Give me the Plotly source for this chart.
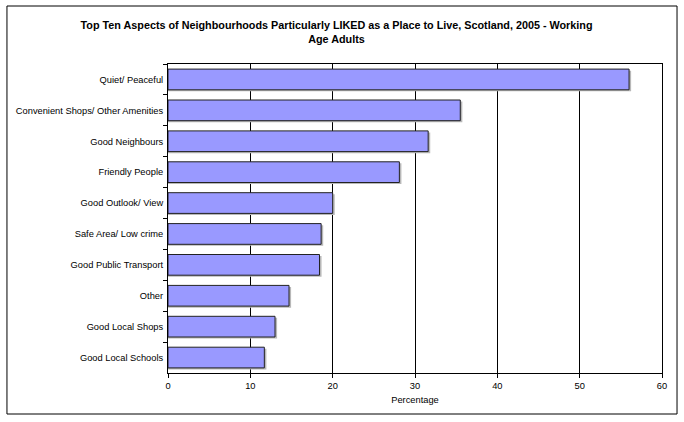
import plotly.graph_objects as go

# Data
aspects = [
    "Quiet/ Peaceful",
    "Convenient Shops/ Other Amenities",
    "Good Neighbours",
    "Friendly People",
    "Good Outlook/ View",
    "Safe Area/ Low crime",
    "Good Public Transport",
    "Other",
    "Good Local Shops",
    "Good Local Schools",
]
percentages = [56.0, 35.5, 31.6, 28.1, 20.0, 18.6, 18.4, 14.7, 13.0, 11.7]
x_ticks = [0, 10, 20, 30, 40, 50, 60]

title = ("Top Ten Aspects of Neighbourhoods Particularly LIKED as a Place to Live, "
         "Scotland, 2005 - Working<br>Age Adults")

font = "Liberation Sans, Arial, sans-serif"
bar_w = 0.67

fig = go.Figure()

# drop shadow under each bar
fig.add_trace(go.Bar(
    y=aspects, x=[v + 0.25 for v in percentages], orientation="h",
    width=bar_w, offset=-bar_w / 2 + 0.05,
    marker=dict(color="#b8b8b8", line=dict(width=0)),
    hoverinfo="skip", showlegend=False,
))

fig.add_trace(go.Bar(
    y=aspects, x=percentages, orientation="h",
    width=bar_w, offset=-bar_w / 2,
    marker=dict(color="#9999FF", line=dict(color="#222222", width=1)),
    showlegend=False,
))

fig.update_layout(
    width=684, height=422,
    margin=dict(l=168, r=22, t=64, b=49),
    paper_bgcolor="white", plot_bgcolor="white",
    barmode="overlay",
    font=dict(family=font, size=9.3, color="black"),
    title=dict(text="<b>" + title + "</b>", x=0.492, xanchor="center",
               y=0.931, yanchor="top", font=dict(size=10.8, family=font)),
)

fig.update_xaxes(
    range=[0, 60], tickvals=x_ticks, ticks="outside", ticklen=4,
    tickcolor="black", showline=True, linecolor="black", linewidth=1,
    mirror=True, showgrid=True, gridcolor="black", gridwidth=1,
    zeroline=False, automargin=False,
    title=dict(text="Percentage", standoff=6, font=dict(size=9.3, family=font)),
    tickfont=dict(size=9.3),
)
fig.update_yaxes(
    autorange="reversed", ticks="outside", ticklen=4, tickcolor="black",
    tickson="boundaries", showline=True, linecolor="black", linewidth=1,
    mirror=True, showgrid=False, ticklabelstandoff=2, automargin=False,
)

# outer chart frame
fig.add_shape(type="rect", xref="paper", yref="paper",
              x0=-0.326, x1=1.0304, y0=-0.1327, y1=1.1877,
              line=dict(color="black", width=1), fillcolor="rgba(0,0,0,0)")

fig.write_html("out.html", config={"displayModeBar": False},
               post_script="document.body.style.margin='0';")
